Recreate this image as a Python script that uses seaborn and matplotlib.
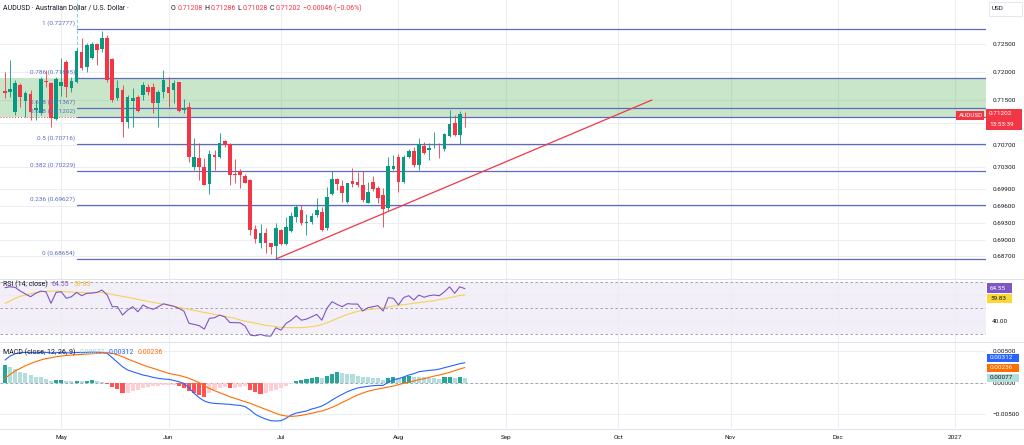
import numpy as np
import pandas as pd
import matplotlib
matplotlib.use("Agg")
import matplotlib.pyplot as plt
from matplotlib.patches import Rectangle
from matplotlib.lines import Line2D
from matplotlib.ticker import FuncFormatter, NullFormatter
import seaborn as sns

W, H = 1024, 445
FS = 4.6     # axis / badge text
FS_HEAD = 5.0  # header and indicator legends

# daily AUDUSD bars, Apr 16 - Aug 20 2026 (weekdays)
start_day = "2026-04-16"
end_day = "2026-08-20"

opens = [
    0.71671, 0.71653, 0.71295, 0.71773, 0.71491, 0.71612, 0.71325, 0.71277, 0.71850, 0.71803,
    0.71159, 0.71750, 0.72190, 0.71714, 0.71832, 0.72370, 0.72101, 0.72251, 0.72507, 0.72413,
    0.72610, 0.72233, 0.71535, 0.71683, 0.71116, 0.71487, 0.71563, 0.71594, 0.71742, 0.71732,
    0.71445, 0.71653, 0.71732, 0.71683, 0.71827, 0.71325, 0.71384, 0.70309, 0.70459, 0.70309,
    0.69999, 0.70518, 0.70477, 0.70769, 0.70716, 0.70178, 0.70232, 0.70142, 0.70070, 0.69187,
    0.68936, 0.69126, 0.68936, 0.68888, 0.69174, 0.68923, 0.69162, 0.69413, 0.69533, 0.69294,
    0.69323, 0.69443, 0.69502, 0.69205, 0.69820, 0.70083, 0.69963, 0.69682, 0.70052, 0.70035,
    0.69981, 0.69664, 0.70040, 0.69922, 0.69802, 0.69563, 0.70262, 0.70477, 0.70040, 0.70477,
    0.70595, 0.70339, 0.70680, 0.70608, 0.70645, 0.70642, 0.70620, 0.70859, 0.71098, 0.70877,
    0.71208,
]
highs = [
    0.72011, 0.72221, 0.71862, 0.71809, 0.71671, 0.71683, 0.71504, 0.71922, 0.72042, 0.71832,
    0.71922, 0.72260, 0.72221, 0.71922, 0.72430, 0.72610, 0.72520, 0.72549, 0.72520, 0.72740,
    0.72669, 0.72251, 0.71862, 0.71773, 0.71594, 0.71720, 0.71594, 0.71832, 0.71790, 0.71803,
    0.71683, 0.72042, 0.71922, 0.71862, 0.71832, 0.71517, 0.71463, 0.70818, 0.70728, 0.70465,
    0.70608, 0.70608, 0.70918, 0.70787, 0.70728, 0.70441, 0.70262, 0.70178, 0.70083, 0.69264,
    0.69282, 0.69205, 0.68947, 0.69294, 0.69187, 0.69413, 0.69502, 0.69622, 0.69622, 0.69461,
    0.69474, 0.69742, 0.69592, 0.69940, 0.70237, 0.70101, 0.70070, 0.70022, 0.70280, 0.70219,
    0.70237, 0.70040, 0.70142, 0.69963, 0.69922, 0.70488, 0.70518, 0.70536, 0.70518, 0.70620,
    0.70667, 0.70818, 0.70757, 0.70739, 0.70936, 0.70728, 0.70918, 0.71325, 0.71236, 0.71313,
    0.71286,
]
lows = [
    0.71535, 0.71563, 0.71236, 0.71384, 0.71206, 0.71146, 0.71146, 0.71236, 0.71742, 0.71026,
    0.71146, 0.71570, 0.71563, 0.71653, 0.71803, 0.72042, 0.72011, 0.72233, 0.72131, 0.72370,
    0.71832, 0.71473, 0.71504, 0.70846, 0.70997, 0.71020, 0.71295, 0.71504, 0.71594, 0.71266,
    0.71015, 0.71535, 0.71384, 0.71445, 0.71295, 0.71266, 0.70398, 0.70250, 0.70070, 0.69975,
    0.69820, 0.70250, 0.70459, 0.70667, 0.69981, 0.70022, 0.69922, 0.70011, 0.69085, 0.68936,
    0.68846, 0.68757, 0.68744, 0.68654, 0.68906, 0.68906, 0.69144, 0.69323, 0.69264, 0.69085,
    0.69282, 0.69402, 0.69155, 0.69174, 0.69802, 0.69891, 0.69682, 0.69664, 0.69940, 0.69940,
    0.69682, 0.69653, 0.69879, 0.69653, 0.69233, 0.69520, 0.70250, 0.69861, 0.70016, 0.70459,
    0.70309, 0.70250, 0.70536, 0.70429, 0.70638, 0.70459, 0.70595, 0.70836, 0.70859, 0.70716,
    0.71028,
]
closes = [
    0.71635, 0.71696, 0.71814, 0.71563, 0.71635, 0.71295, 0.71356, 0.71875, 0.71821, 0.71177,
    0.71875, 0.71827, 0.71742, 0.71845, 0.72382, 0.72072, 0.72490, 0.72507, 0.72400, 0.72610,
    0.71862, 0.71504, 0.71714, 0.71116, 0.71563, 0.71540, 0.71313, 0.71773, 0.71653, 0.71445,
    0.71653, 0.71862, 0.71624, 0.71814, 0.71313, 0.71356, 0.70477, 0.70477, 0.70309, 0.69981,
    0.70536, 0.70477, 0.70739, 0.70698, 0.70160, 0.70155, 0.70160, 0.70022, 0.69174, 0.69008,
    0.69115, 0.68947, 0.68864, 0.69205, 0.68923, 0.69233, 0.69425, 0.69592, 0.69305, 0.69323,
    0.69425, 0.69533, 0.69174, 0.69760, 0.70083, 0.69999, 0.69843, 0.70011, 0.69999, 0.69975,
    0.69712, 0.69861, 0.69904, 0.69742, 0.69545, 0.70321, 0.70321, 0.70040, 0.70477, 0.70595,
    0.70339, 0.70716, 0.70559, 0.70649, 0.70652, 0.70635, 0.70889, 0.71075, 0.70877, 0.71248,
    0.71202,
]

rsi_vals = [
    65.3, 66.0, 65.5, 62.7, 60.5, 58.4, 61.0, 62.7, 62.2, 53.4,
    61.7, 62.2, 57.2, 58.4, 61.7, 59.2, 61.0, 61.2, 61.7, 63.5,
    59.7, 50.8, 50.8, 44.4, 48.2, 50.8, 46.9, 52.1, 50.0, 48.8,
    50.8, 53.0, 52.1, 51.2, 49.5, 47.5, 38.1, 37.3, 36.3, 33.7,
    41.9, 42.4, 44.4, 43.1, 38.7, 38.6, 38.5, 36.0, 29.1, 28.6,
    29.6, 28.5, 28.3, 34.7, 32.9, 38.0, 40.5, 43.9, 40.5, 41.3,
    43.1, 44.9, 40.5, 49.5, 54.6, 52.5, 50.8, 53.1, 52.8, 52.8,
    47.5, 50.0, 50.8, 51.6, 47.5, 57.7, 57.2, 52.1, 57.7, 59.2,
    55.9, 59.7, 58.0, 59.2, 59.7, 59.2, 62.2, 66.0, 61.0, 66.0,
    64.55,
]
rsi_sma = [
    53.4, 55.1, 57.2, 58.7, 59.7, 60.7, 61.4, 62.2, 62.5, 62.7,
    62.7, 62.5, 62.2, 62.0, 61.7, 61.7, 61.4, 61.4, 61.7, 61.7,
    61.0, 60.2, 59.4, 58.7, 57.9, 57.2, 56.4, 55.6, 54.9, 54.1,
    53.4, 52.6, 51.8, 51.0, 50.3, 49.5, 48.7, 48.0, 47.2, 46.4,
    45.7, 44.9, 44.1, 43.4, 42.6, 41.9, 40.7, 39.7, 38.9, 38.2,
    37.4, 36.6, 36.1, 35.6, 35.1, 34.8, 34.8, 34.8, 34.8, 35.1,
    35.6, 36.1, 37.2, 38.5, 40.2, 41.8, 43.3, 44.9, 46.1, 47.2,
    47.9, 48.5, 49.0, 49.5, 50.0, 50.5, 51.3, 51.8, 52.3, 52.8,
    53.4, 53.9, 54.4, 54.9, 55.4, 56.2, 56.9, 57.7, 58.4, 59.4,
    59.83,
]

macd_line = [
    0.00354, 0.00416, 0.00453, 0.00469, 0.00474, 0.00470, 0.00468, 0.00472, 0.00474, 0.00466,
    0.00470, 0.00474, 0.00468, 0.00466, 0.00472, 0.00470, 0.00474, 0.00478, 0.00476, 0.00474,
    0.00458, 0.00390, 0.00318, 0.00249, 0.00197, 0.00170, 0.00144, 0.00118, 0.00102, 0.00081,
    0.00066, 0.00055, 0.00050, 0.00034, 0.00013, -0.00013, -0.00081, -0.00170, -0.00238, -0.00291,
    -0.00317, -0.00328, -0.00333, -0.00338, -0.00343, -0.00354, -0.00359, -0.00380, -0.00432, -0.00500,
    -0.00542, -0.00574, -0.00600, -0.00605, -0.00600, -0.00563, -0.00511, -0.00480, -0.00464, -0.00448,
    -0.00417, -0.00396, -0.00370, -0.00328, -0.00275, -0.00228, -0.00186, -0.00144, -0.00113, -0.00086,
    -0.00071, -0.00060, -0.00050, -0.00045, -0.00045, 0.00003, 0.00045, 0.00060, 0.00087, 0.00118,
    0.00139, 0.00170, 0.00181, 0.00191, 0.00197, 0.00212, 0.00233, 0.00254, 0.00275, 0.00296,
    0.00312,
]
macd_signal = [
    0.00066, 0.00128, 0.00181, 0.00223, 0.00265, 0.00296, 0.00328, 0.00354, 0.00375, 0.00390,
    0.00406, 0.00416, 0.00427, 0.00432, 0.00437, 0.00442, 0.00448, 0.00453, 0.00458, 0.00463,
    0.00469, 0.00458, 0.00437, 0.00406, 0.00370, 0.00338, 0.00307, 0.00275, 0.00249, 0.00223,
    0.00197, 0.00170, 0.00144, 0.00128, 0.00113, 0.00092, 0.00066, 0.00034, -0.00003, -0.00050,
    -0.00092, -0.00128, -0.00160, -0.00191, -0.00223, -0.00249, -0.00275, -0.00301, -0.00328, -0.00359,
    -0.00390, -0.00422, -0.00453, -0.00485, -0.00511, -0.00527, -0.00532, -0.00527, -0.00516, -0.00500,
    -0.00485, -0.00464, -0.00448, -0.00422, -0.00390, -0.00354, -0.00312, -0.00275, -0.00233, -0.00197,
    -0.00165, -0.00139, -0.00118, -0.00102, -0.00086, -0.00071, -0.00055, -0.00034, -0.00013, 0.00008,
    0.00024, 0.00045, 0.00060, 0.00081, 0.00102, 0.00118, 0.00139, 0.00160, 0.00186, 0.00212,
    0.00236,
]
macd_hist = [
    0.0028, 0.0025, 0.0021, 0.0017, 0.0015, 0.0012, 0.0009, 0.0008, 0.0005, 0.00028,
    0.00032, 0.00034, 0.00022, 0.00020, 0.00030, 0.00022, 0.00030, 0.00032, 0.00028, 0.00010,
    -0.0002, -0.0007, -0.0010, -0.0017, -0.0016, -0.0013, -0.0012, -0.0009, -0.0007, -0.0006,
    -0.0005, -0.0004, -0.00038, -0.00036, -0.0006, -0.0009, -0.0014, -0.0017, -0.0020, -0.0022,
    -0.0016, -0.0012, -0.0009, -0.0007, -0.0009, -0.0008, -0.0007, -0.0006, -0.0011, -0.0015,
    -0.0018, -0.0016, -0.0013, -0.0012, -0.0009, -0.0005, -0.0002, 0.0003, 0.0004, 0.0005,
    0.0007, 0.0008, 0.00075, 0.0011, 0.0014, 0.0016, 0.0015, 0.0014, 0.0013, 0.0011,
    0.0009, 0.0008, 0.00075, 0.0007, 0.0004, 0.0007, 0.0008, 0.0007, 0.0009, 0.0011,
    0.0009, 0.00088, 0.0008, 0.00078, 0.0007, 0.0006, 0.0008, 0.00082, 0.0007, 0.0008,
    0.00077,
]

# drawings
fib_names = ["1", "0.786", "0.658", "0.618", "0.5", "0.382", "0.236", "0"]
fib_prices = [0.72777, 0.71895, 0.71367, 0.71202, 0.70716, 0.70229, 0.69627, 0.68654]
fib_start_bar = 14.1
zone_top, zone_bottom = 0.71895, 0.71202
trend_bars = [53, 126.6]
trend_prices = [0.68654, 0.71504]
last_price = 0.71202

price_ticks = [0.725, 0.720, 0.715, 0.707, 0.703, 0.699, 0.696, 0.693, 0.690, 0.687]
price_hidden_ticks = [0.711]   # gridline only, label sits under the price badge
rsi_ticks = [40]
rsi_hidden_ticks = [60]
macd_ticks = [0.005, 0.0, -0.005]
month_starts = ["2026-05-01", "2026-06-01", "2026-07-01", "2026-08-01", "2026-09-01",
                "2026-10-01", "2026-11-01", "2026-12-01", "2027-01-01"]
month_labels = ["May", "Jun", "Jul", "Aug", "Sep", "Oct", "Nov", "Dec", "2027"]

UP, DOWN = "#089981", "#f23645"
FIB_C = "#5c6bc0"
TXT = "#131722"
GRID = "#eceef3"

df = pd.DataFrame({
    "date": pd.bdate_range(start_day, end_day),
    "open": opens, "high": highs, "low": lows, "close": closes,
    "rsi": rsi_vals, "rsi_sma": rsi_sma,
    "macd": macd_line, "signal": macd_signal, "hist": macd_hist,
})
df["bar"] = np.arange(len(df))
month_pos = [int(np.busday_count(start_day, d)) for d in month_starts]

sns.set_theme(style="white")
plt.rcParams["font.family"] = ["Roboto", "DejaVu Sans"]


def fx(px):
    return px / W


def fy(py):
    return 1 - py / H


fig = plt.figure(figsize=(W / 100, H / 100), dpi=100)
plot_w = fx(986)
ax = fig.add_axes([0, fy(278), plot_w, 278 / H])
ax_rsi = fig.add_axes([0, fy(341), plot_w, 63 / H], sharex=ax)
ax_macd = fig.add_axes([0, fy(428), plot_w, 87 / H], sharex=ax)

x_left, x_right = -0.98, 191.98
minus = lambda s: s.replace("-", "\u2212")

for a in (ax, ax_rsi, ax_macd):
    for sp in a.spines.values():
        sp.set_visible(False)
    a.set_facecolor("white")
    a.yaxis.tick_right()
    a.tick_params(axis="y", which="both", length=0, pad=4.5, labelsize=FS, labelcolor=TXT,
                  left=False, labelleft=False, right=False, labelright=True)
    a.tick_params(axis="x", length=0)
    a.set_xticks(month_pos)
    a.grid(True, which="both", color=GRID, linewidth=0.8)
    a.set_axisbelow(True)

# ---- main price pane ----
ax.set_xlim(x_left, x_right)
ax.set_ylim(0.68314, 0.73296)
ax.set_yticks(price_ticks)
ax.set_yticks(price_hidden_ticks, minor=True)
ax.yaxis.set_major_formatter(FuncFormatter(lambda v, _: f"{v:.5f}"))
ax.yaxis.set_minor_formatter(NullFormatter())
ax.tick_params(axis="x", labelbottom=False)

ax.axhspan(zone_bottom, zone_top, color="#4caf50", alpha=0.3, lw=0, zorder=0.6)
for name, p in zip(fib_names, fib_prices):
    ax.plot([fib_start_bar, x_right], [p, p], color=FIB_C, lw=0.9, zorder=1)
    ax.annotate(f"{name} ({p:.5f})", xy=(fib_start_bar, p), xytext=(-1.5, 2.2),
                textcoords="offset points", ha="right", va="bottom",
                color=FIB_C, fontsize=FS, zorder=5)
ax.plot([fib_start_bar, fib_start_bar], [zone_top, 0.7330], color="#80d8e8",
        lw=0.8, ls=(0, (3, 2)), zorder=1)
ax.axhline(last_price, color=DOWN, lw=0.7, ls=(0, (1, 2)), zorder=0.9)
ax.plot(trend_bars, trend_prices, color=DOWN, lw=0.9, zorder=2)

up = df["close"] >= df["open"]
colors = np.where(up, UP, DOWN)
ax.vlines(df["bar"], df["low"], df["high"], colors=colors, lw=0.6, zorder=3)
body = (df["close"] - df["open"]).abs().clip(lower=0.00003)
ax.bar(df["bar"], body, bottom=df[["open", "close"]].min(axis=1), width=0.72,
       color=colors, linewidth=0, zorder=4)

# ---- RSI pane ----
ax_rsi.set_ylim(24.6, 72.7)
ax_rsi.set_yticks(rsi_ticks)
ax_rsi.set_yticks(rsi_hidden_ticks, minor=True)
ax_rsi.yaxis.set_major_formatter(FuncFormatter(lambda v, _: f"{v:.2f}"))
ax_rsi.yaxis.set_minor_formatter(NullFormatter())
ax_rsi.tick_params(axis="x", labelbottom=False)
ax_rsi.axhspan(30, 70, color="#7e57c2", alpha=0.09, lw=0, zorder=0.5)
for lvl in (70, 50, 30):
    ax_rsi.axhline(lvl, color="#9598a1", lw=0.6, ls=(0, (3, 3)), zorder=1)
sns.lineplot(data=df, x="bar", y="rsi_sma", ax=ax_rsi, color="#f7d154", lw=0.8, zorder=2)
sns.lineplot(data=df, x="bar", y="rsi", ax=ax_rsi, color="#7e57c2", lw=0.8, zorder=3)
ax_rsi.set_xlabel("")
ax_rsi.set_ylabel("")

# ---- MACD pane ----
ax_macd.set_ylim(-0.00715, 0.00653)
ax_macd.set_yticks(macd_ticks)
ax_macd.yaxis.set_major_formatter(FuncFormatter(lambda v, _: minus(f"{v:.5f}")))
ax_macd.set_xticklabels(month_labels)
ax_macd.tick_params(axis="x", labelsize=FS, labelcolor=TXT, pad=5)
ax_macd.axhline(0, color="#9598a1", lw=0.6, ls=(0, (3, 3)), zorder=1)
hist = df["hist"].to_numpy()
prev = np.concatenate([[hist[0] - 1], hist[:-1]])
hist_colors = np.where(hist >= 0,
                       np.where(hist > prev, "#26a69a", "#b2dfdb"),
                       np.where(hist > prev, "#ffcdd2", "#ff5252"))
ax_macd.bar(df["bar"], hist, width=0.8, color=hist_colors, linewidth=0, zorder=2)
sns.lineplot(data=df, x="bar", y="macd", ax=ax_macd, color="#2962ff", lw=0.8, zorder=3)
sns.lineplot(data=df, x="bar", y="signal", ax=ax_macd, color="#ff6d00", lw=0.8, zorder=3)
ax_macd.set_xlabel("")
ax_macd.set_ylabel("")
ax_macd.set_xlim(x_left, x_right)

# pane separators
for py in (278.5, 341.5, 428.5):
    fig.add_artist(Line2D([0, 1], [fy(py), fy(py)], transform=fig.transFigure,
                          color="#e0e3eb", lw=0.8))

renderer = fig.canvas.get_renderer()


def put_row(x_px, y_px, pieces, gap=0.0):
    x = x_px
    for s, c in pieces:
        t = fig.text(fx(x), fy(y_px), s, color=c, fontsize=FS_HEAD, ha="left", va="center")
        x += t.get_window_extent(renderer).width + gap
    return x


put_row(3, 8, [("AUDUSD \u00b7 Australian Dollar / U.S. Dollar \u00b7", TXT)])
put_row(171, 8, [("O", TXT), ("0.71208", DOWN), ("H", TXT), ("0.71286", DOWN),
                 ("L", TXT), ("0.71028", DOWN), ("C", TXT), ("0.71202", DOWN),
                 ("\u22120.00046 (\u22120.06%)", DOWN)], gap=1.6)
put_row(3, 284.5, [("RSI (14, close)", TXT), ("64.55", "#7e57c2"), ("59.83", "#e8c230")], gap=4)
put_row(3, 352, [("MACD (close, 12, 26, 9)", TXT), ("0.00077", "#9fd3cd"),
                 ("0.00312", "#2962ff"), ("0.00236", "#ff6d00")], gap=4)


def badge(x0, y0, x1, y1, fc, lines, tc="white", ec="none"):
    fig.add_artist(Rectangle((fx(x0), fy(y1)), fx(x1) - fx(x0), fy(y0) - fy(y1),
                             transform=fig.transFigure, fc=fc, ec=ec, lw=0.6, zorder=10))
    for s, yy in lines:
        fig.text(fx(x0 + 3), fy(yy), s, color=tc, fontsize=FS, ha="left",
                 va="center", zorder=11)


badge(989, 2, 1022, 16, "white", [("USD", 9)], tc=TXT, ec="#e0e3eb")
badge(956, 110.5, 984, 120, DOWN, [("AUDUSD", 115.3)])
badge(986, 108.5, 1022, 129.5, DOWN, [("0.71202", 113.6), ("13:53:39", 124.2)])
badge(987, 283.5, 1012, 292.7, "#7e57c2", [("64.55", 288.2)])
badge(987, 293.5, 1012, 302.7, "#fdd835", [("59.83", 298.2)], tc=TXT)
badge(987, 353.7, 1019, 362, "#2962ff", [("0.00312", 357.9)])
badge(987, 363.5, 1019, 371.8, "#ff6d00", [("0.00236", 367.7)])
badge(987, 373.5, 1019, 382, "#b2dfdb", [("0.00077", 377.8)], tc=TXT)

fig.savefig("out.png", dpi=100)
